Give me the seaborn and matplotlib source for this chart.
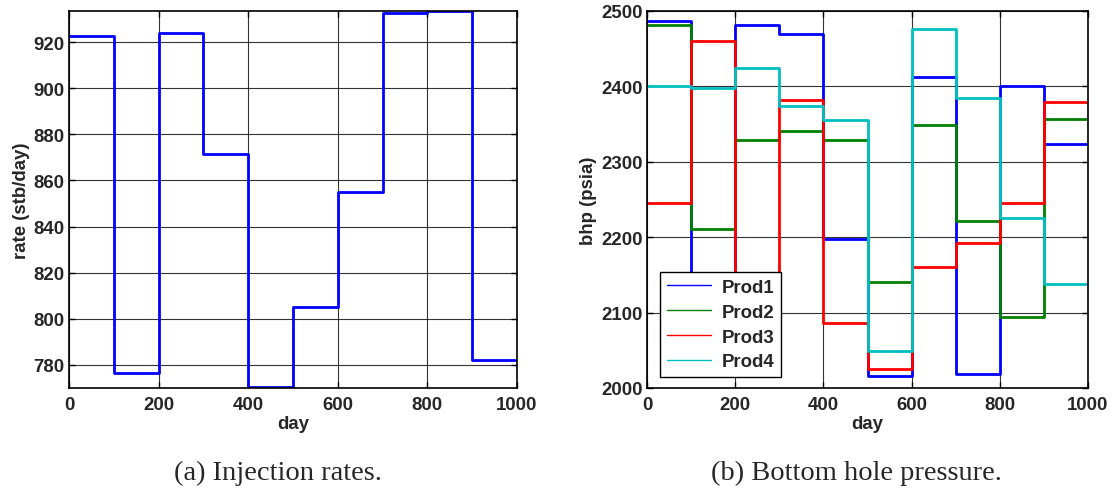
import numpy as np
import pandas as pd
import matplotlib
matplotlib.use("Agg")
import matplotlib.pyplot as plt
import seaborn as sns
from matplotlib.lines import Line2D

# ---- data ----
day_edges = [0, 100, 200, 300, 400, 500, 600, 700, 800, 900]
inj_rate = [922.5, 776.5, 924.0, 871.5, 770.3, 805.0, 855.0, 932.5, 933.3, 782.0]
prod1 = [2487, 2060, 2481, 2469, 2197, 2016, 2413, 2018, 2400, 2324]
prod2 = [2481, 2211, 2329, 2341, 2329, 2140, 2349, 2221, 2094, 2357]
prod3 = [2245, 2460, 2120, 2382, 2086, 2025, 2160, 2192, 2246, 2379]
prod4 = [2401, 2398, 2425, 2374, 2355, 2049, 2476, 2384, 2225, 2138]
prod_names = ["Prod1", "Prod2", "Prod3", "Prod4"]
prod_colors = ["#0000ff", "#008000", "#ff0000", "#00bfbf"]
end_day = 1000

sns.set_theme(style="white")
plt.rcParams["font.family"] = ["Liberation Sans", "DejaVu Sans"]
plt.rcParams["font.weight"] = "bold"

FS = 13.4

fig = plt.figure(figsize=(11.12, 4.89), dpi=100)
ax1 = fig.add_axes([69/1112, 1-389/489, (517-69)/1112, (389-12)/489])
ax2 = fig.add_axes([647/1112, 1-389/489, (1088-647)/1112, (389-12)/489])

def stepdf(vals, name):
    x = list(day_edges) + [end_day]
    y = list(vals) + [vals[-1]]
    return pd.DataFrame({"day": x, "value": y, "well": name})

df1 = stepdf(inj_rate, "Inj")
sns.lineplot(data=df1, x="day", y="value", ax=ax1, color="#0000ff",
             drawstyle="steps-post", lw=2, estimator=None, sort=False)

df2 = pd.concat([stepdf(v, n) for v, n in zip([prod1, prod2, prod3, prod4], prod_names)])
sns.lineplot(data=df2, x="day", y="value", hue="well", palette=prod_colors, ax=ax2,
             drawstyle="steps-post", lw=2, estimator=None, sort=False, legend=False)

for ax in (ax1, ax2):
    ax.set_xlim(0, 1000)
    ax.set_xticks([0, 200, 400, 600, 800, 1000])
    ax.grid(True, color="black", lw=0.8, alpha=0.8)
    ax.set_axisbelow(True)
    ax.tick_params(direction="in", length=4, labelsize=FS, width=1, color="black",
                   bottom=True, left=True, top=True, right=True)
    ax.tick_params(axis="x", pad=6)
    ax.tick_params(axis="y", pad=3)
    for s in ax.spines.values():
        s.set_color("black"); s.set_linewidth(1.2)
    ax.set_xlabel("day", fontsize=FS, fontweight="bold", labelpad=1)

ax1.set_ylim(770, 933.5)
ax1.set_yticks([780, 800, 820, 840, 860, 880, 900, 920])
ax1.set_ylabel("rate (stb/day)", fontsize=FS, fontweight="bold", labelpad=3)

ax2.set_ylim(2000, 2500)
ax2.set_yticks([2000, 2100, 2200, 2300, 2400, 2500])
ax2.set_ylabel("bhp (psia)", fontsize=FS, fontweight="bold", labelpad=3)

for ax in (ax1, ax2):
    for lab in ax.get_xticklabels() + ax.get_yticklabels():
        lab.set_fontweight("bold")

handles = [Line2D([0], [0], color=c, lw=1) for c in prod_colors]
leg = ax2.legend(handles, prod_names, loc="lower left", bbox_to_anchor=(13/441, 11/377),
                 borderaxespad=0, fancybox=False, framealpha=1, edgecolor="black",
                 prop={"weight": "bold", "size": FS}, handlelength=2.4,
                 labelspacing=0.42, borderpad=0.35, handletextpad=0.55)
leg.get_frame().set_linewidth(1.0)

fig.text(278/1112, 1-480/489, "(a) Injection rates.", ha="center", va="baseline",
         fontsize=20.5, family="Liberation Serif", fontweight="normal")
fig.text(856/1112, 1-480/489, "(b) Bottom hole pressure.", ha="center", va="baseline",
         fontsize=20.5, family="Liberation Serif", fontweight="normal")

fig.savefig("out.png", dpi=100)
